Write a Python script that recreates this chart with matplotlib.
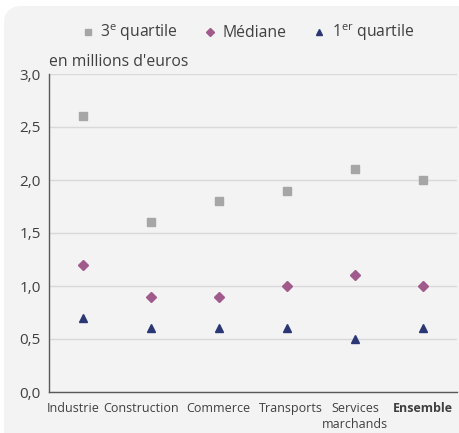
import matplotlib
matplotlib.use("Agg")
import matplotlib.pyplot as plt
from matplotlib.patches import FancyBboxPatch
from matplotlib.transforms import ScaledTranslation

plt.rcParams['font.family'] = ['Open Sans', 'DejaVu Sans']
plt.rcParams['mathtext.fontset'] = 'custom'
plt.rcParams['mathtext.rm'] = 'Open Sans'

categories = ["Industrie", "Construction", "Commerce", "Transports", "Services\nmarchands", "Ensemble"]
q3 = [2.6, 1.6, 1.8, 1.9, 2.1, 2.0]
mediane = [1.2, 0.9, 0.9, 1.0, 1.1, 1.0]
q1 = [0.7, 0.6, 0.6, 0.6, 0.5, 0.6]
yticks = [0.0, 0.5, 1.0, 1.5, 2.0, 2.5, 3.0]
# small horizontal shifts (px) of the category labels, as in the original
label_shift = [-9.5, -9.5, -1, 4, 0, 0]

txt = "#404040"
fig = plt.figure(figsize=(4.59, 4.33), dpi=100)
fig.patch.set_facecolor("white")
panel = FancyBboxPatch((4 / 459, -0.1), 1.2, 0.1 + 427 / 433,
                       boxstyle="round,pad=0,rounding_size=0.04",
                       transform=fig.transFigure, facecolor="#f3f3f3",
                       edgecolor="none", zorder=-10)
fig.patches.append(panel)

ax = fig.add_axes([49 / 459, 1 - 392 / 433, 408 / 459, 318 / 433])
ax.set_zorder(5)
ax.set_facecolor("none")
x = range(len(categories))
ax.plot(x, q3, ls="none", marker="s", ms=6, color="#a6a6a6", label="3$^{\\mathrm{e}}$ quartile", zorder=3)
ax.plot(x, mediane, ls="none", marker="D", ms=5, color="#a05a8c", label="Médiane", zorder=3)
ax.plot(x, q1, ls="none", marker="^", ms=6, color="#2b3775", label="1$^{\\mathrm{er}}$ quartile", zorder=3)

ax.set_xlim(-0.5, 5.5)
ax.set_ylim(0, 3.0)
ax.set_yticks(yticks)
ax.set_yticklabels([f"{v:.1f}".replace(".", ",") for v in yticks], fontsize=11, color=txt)
ax.set_xticks(list(x))
ax.set_xticklabels([])
for i, (cat, dx) in enumerate(zip(categories, label_shift)):
    tr = ax.get_xaxis_transform() + ScaledTranslation(dx / 100, -10 / 100, fig.dpi_scale_trans)
    ax.text(i, 0, cat, transform=tr, ha="center", va="top", fontsize=9, color=txt,
            linespacing=1.3, fontweight="bold" if cat == "Ensemble" else "normal",
            clip_on=False)
ax.tick_params(axis="x", length=0)
ax.tick_params(axis="y", length=0, pad=6)
ax.grid(axis="y", color="#d9d9d9", lw=1)
ax.set_axisbelow(True)
for s in ["top", "right"]:
    ax.spines[s].set_visible(False)
for s in ["left", "bottom"]:
    ax.spines[s].set_color("#595959")
    ax.spines[s].set_linewidth(1)

fig.text(49 / 459, 1 - 62 / 433, "en millions d'euros", fontsize=11.3, color=txt, va="center", ha="left")

ax.legend(loc="center", bbox_to_anchor=(248 / 459, 1 - 33 / 433), bbox_transform=fig.transFigure,
          ncol=3, frameon=False, fontsize=11.3, labelcolor=txt, handlelength=0.7,
          handletextpad=0.45, columnspacing=1.7, markerscale=0.8)

fig.savefig("out.png", dpi=100)
